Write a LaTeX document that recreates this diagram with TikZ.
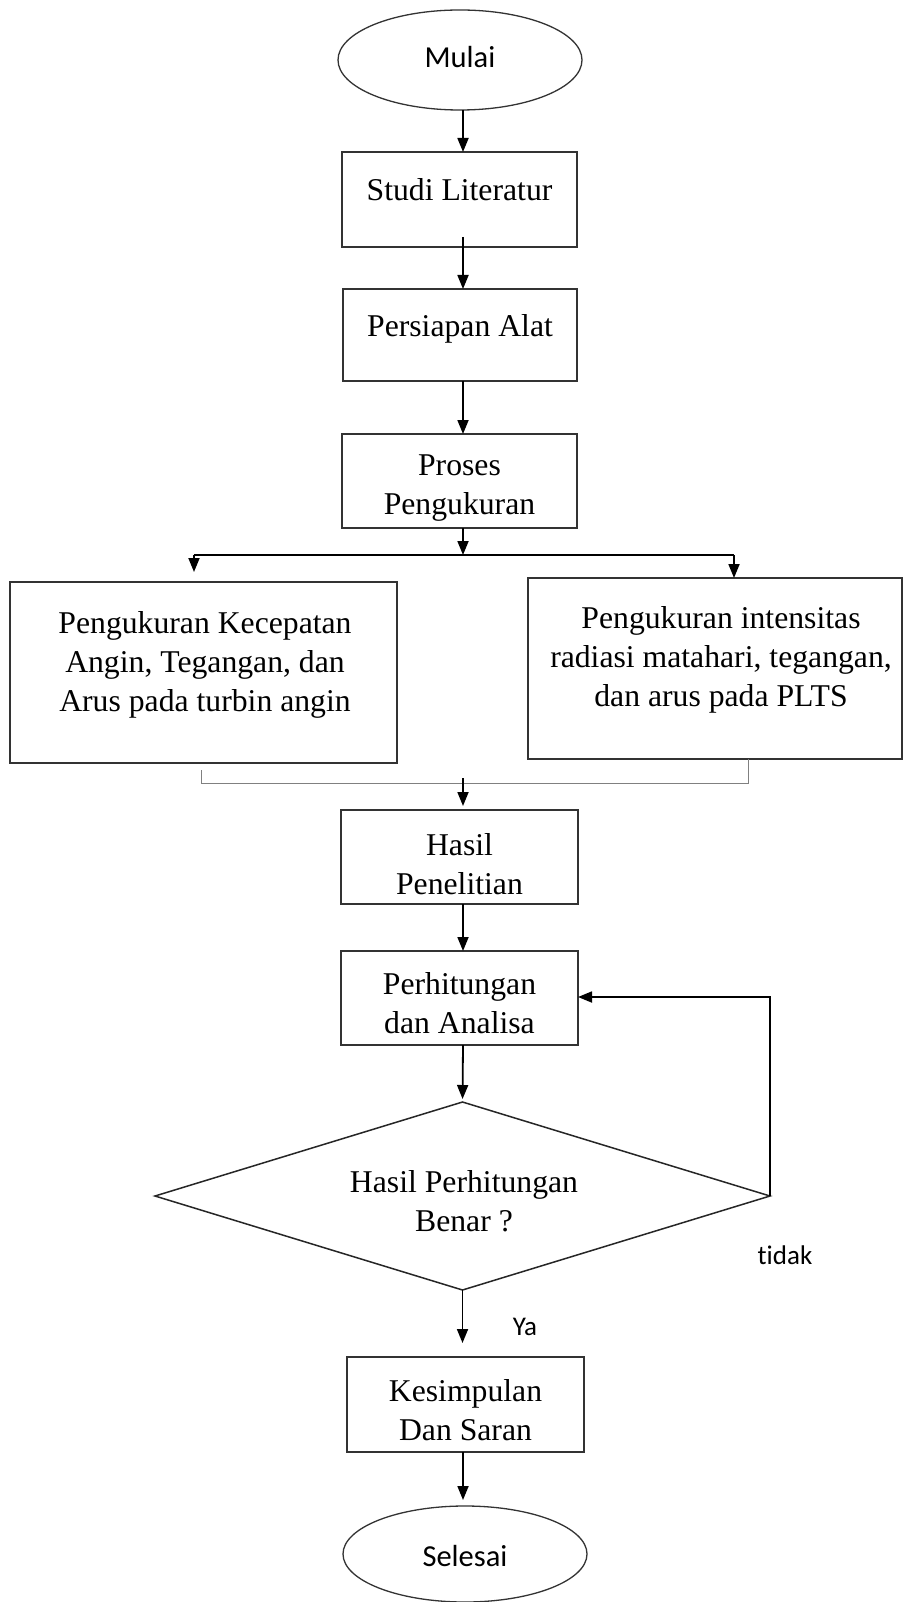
\documentclass[tikz,border=0pt]{standalone}
\usepackage{fontspec}
\setmainfont{Liberation Serif}
\newfontfamily\calib[Ligatures=NoCommon]{Carlito}
\usetikzlibrary{arrows.meta,shapes.geometric}
\begin{document}
\begin{tikzpicture}[x=1pt,y=-1pt,
  box/.style={draw=black!80, line width=1.8pt, inner sep=0pt, outer sep=0pt},
  oval/.style={draw=black!80, ellipse, line width=1.3pt, inner sep=0pt, outer sep=0pt},
  dmd/.style={draw=black!85, diamond, line width=1.5pt, inner sep=0pt, outer sep=0pt},
  txt/.style={font=\fontsize{31.7}{39}\selectfont, align=center, inner sep=0pt},
  stxt/.style={font=\calib\fontsize{30.5}{36}\selectfont, inner sep=0pt},
  lbl/.style={font=\calib\fontsize{27}{32}\selectfont, inner sep=0pt},
  arr/.style={line width=1.8pt, -{Triangle[length=14pt,width=11pt]}},
  plain/.style={line width=1.8pt},
  thinln/.style={draw=black!50, line width=1pt}]
\useasboundingbox (0,0) rectangle (904,1602);
\fill[white] (0,0) rectangle (904,1602);

% shapes
\node[oval, minimum width=244pt, minimum height=100pt] (mulai) at (460,60) {};
\node[box, minimum width=235pt, minimum height=95pt] (studi) at (459.5,199.5) {};
\node[box, minimum width=234pt, minimum height=92pt] (persiapan) at (460,335) {};
\node[box, minimum width=235pt, minimum height=94pt] (proses) at (459.5,481) {};
\node[box, minimum width=387pt, minimum height=181pt] (kiri) at (203.5,672.5) {};
\node[box, minimum width=374pt, minimum height=181pt] (kanan) at (715,668.5) {};
\node[box, minimum width=237pt, minimum height=94pt] (hasil) at (459.5,857) {};
\node[box, minimum width=237pt, minimum height=94pt] (hitung) at (459.5,998) {};
\node[dmd, minimum width=615pt, minimum height=188pt] (dia) at (462.5,1196) {};
\node[box, minimum width=237pt, minimum height=95pt] (kesimpulan) at (465.5,1404.5) {};
\node[oval, minimum width=244pt, minimum height=96pt] (selesai) at (465,1554) {};

% texts
\node[stxt] (tmulai) at (460,57) {Mulai};
\node[txt] (tstudi) at (459.5,190) {Studi Literatur};
\node[txt] (tpersiapan) at (460,329) {Persiapan Alat};
\node[txt] (tproses) at (459.5,488) {Proses\\Pengukuran};
\node[txt] (tkiri) at (205,665) {Pengukuran Kecepatan\\Angin, Tegangan, dan\\Arus pada turbin angin};
\node[txt] (tkanan) at (721,660) {Pengukuran intensitas\\radiasi matahari, tegangan,\\dan arus pada PLTS};
\node[txt] (thasil) at (459.5,864) {Hasil\\Penelitian};
\node[txt] (thitung) at (459.5,1003) {Perhitungan\\dan Analisa};
\node[txt] (tdia) at (464,1201) {Hasil Perhitungan\\Benar ?};
\node[txt] (tkes) at (465.5,1410) {Kesimpulan\\Dan Saran};
\node[stxt] (tselesai) at (465,1556) {Selesai};
\node[lbl] (tidak) at (785,1255) {tidak};
\node[lbl] (ya) at (525,1327) {Ya};

% connectors
\coordinate (ax) at (463,0);
\draw[arr] (mulai.south -| ax) -- (studi.north -| ax);
\draw[arr] ([yshift=10pt]studi.south -| ax) -- (persiapan.north -| ax);
\draw[arr] (persiapan.south -| ax) -- (proses.north -| ax);

\coordinate (j) at (463,555);
\coordinate (jl) at (194,555);
\coordinate (jr) at (734,555);
\draw[arr] (proses.south -| ax) -- (j);
\draw[plain] (jl) -- (jr);
\draw[arr, shorten >=10pt] (jl) -- (jl |- kiri.north);
\draw[arr] (jr) -- (jr |- kanan.north);

\coordinate (ml) at (201,783);
\coordinate (mr) at (748,783);
\draw[thinln] (ml) ++(0,-13) -- (ml) -- (mr) -- (kanan.south -| mr);
\coordinate (mj) at (463,778);
\draw[arr, shorten >=4pt] (mj) -- (mj |- hasil.north);

\draw[arr] (hasil.south -| ax) -- (hitung.north -| ax);
\draw[arr, shorten >=3pt] (hitung.south -| ax) -- (dia.north);
\coordinate (fb) at (770,997);
\draw[arr] (dia.east) -- (fb) -- (fb -| hitung.east);
\draw[arr, shorten >=14pt] (dia.south) -- (dia.south |- kesimpulan.north);
\draw[arr, shorten >=6pt] (kesimpulan.south -| ax) -- (selesai.north -| ax);
\end{tikzpicture}
\end{document}
